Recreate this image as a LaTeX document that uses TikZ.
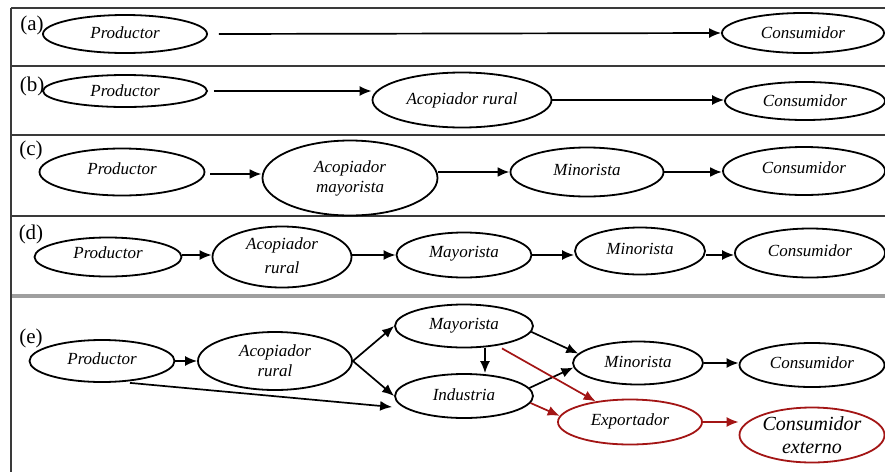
\documentclass[tikz,border=0pt]{standalone}
\usepackage{fontspec}
\setmainfont{Liberation Serif}
\usetikzlibrary{arrows.meta,shapes.geometric}
\definecolor{expred}{HTML}{A31515}
\definecolor{framegray}{HTML}{3A3A3A}
\begin{document}
\begin{tikzpicture}[x=0.5pt,y=-0.5pt,
  actor/.style={ellipse, draw, line width=0.9pt, inner sep=0pt, align=center,
    font=\itshape\fontsize{8.5}{10}\selectfont},
  extactor/.style={actor, draw=expred},
  arr/.style={-{Latex[length=6pt,width=5pt]}, line width=0.85pt},
  thickarr/.style={arr, line width=1.2pt},
  redarr/.style={arr, draw=expred, fill=expred},
  tag/.style={font=\fontsize{10.5}{12}\selectfont, inner sep=0pt},
  rule/.style={draw=framegray, line width=0.8pt}]

\useasboundingbox[fill=white] (0,0) rectangle (885,472);

% panel frame
\draw[rule] (11,8) -- (885,8);
\draw[rule] (11,66) -- (885,66);
\draw[rule] (11,135) -- (885,135);
\draw[rule] (11,216) -- (885,216);
\draw[draw=gray!75, line width=1.6pt] (11,296) -- (885,296);
\draw[rule] (11,8) -- (11,472);

% panel labels
\node[tag] (la) at (32,25) {(a)};
\node[tag] (lb) at (32,86) {(b)};
\node[tag] (lc) at (31,150) {(c)};
\node[tag] (ld) at (31,234) {(d)};
\node[tag] (le) at (31,338) {(e)};

% (a)
\node[actor, minimum width=82pt, minimum height=19pt] (pa) at (125,34) {\raisebox{1pt}{Productor}};
\node[actor, minimum width=81pt, minimum height=20pt] (ca) at (803,33) {Consumidor};
\draw[arr] ([xshift=5.5pt]pa.east) -- (ca.west);

% (b)
\node[actor, minimum width=82pt, minimum height=16pt] (pb) at (125,91) {Productor};
\node[actor, minimum width=89.5pt, minimum height=27.5pt] (ab) at (462,100) {Acopiador rural};
\node[actor, minimum width=80pt, minimum height=19pt] (cb) at (805,101) {Consumidor};
\draw[arr] ([xshift=3pt]pb.east) -- (ab.west |- pb.east);
\draw[arr] (ab.east) -- (cb.west |- ab.east);

% (c)
\node[actor, minimum width=82.5pt, minimum height=23.5pt] (pc) at (122,172) {\raisebox{3.5pt}{Productor}};
\node[actor, minimum width=87.5pt, minimum height=37.5pt] (acm) at (350,178) {Acopiador\\mayorista};
\node[actor, minimum width=76.5pt, minimum height=24.5pt] (mc) at (587,172) {\raisebox{2.5pt}{Minorista}};
\node[actor, minimum width=81pt, minimum height=24pt] (cc) at (804,171) {\raisebox{3.5pt}{Consumidor}};
\draw[thickarr] ([xshift=2.5pt,yshift=-1pt]pc.east) -- (acm.west |- 0,174);
\draw[thickarr] (acm.east |- mc.west) -- (mc.west);
\draw[thickarr] (mc.east) -- (cc.west |- mc.east);

% (d)
\node[actor, minimum width=73.5pt, minimum height=19.5pt] (pd) at (108,257) {\raisebox{4.5pt}{Productor}};
\node[actor, minimum width=69.5pt, minimum height=30.5pt] (ad) at (282,257) {\raisebox{1.5pt}{\shortstack{Acopiador\\[1pt]rural}}};
\node[actor, minimum width=67.5pt, minimum height=22.5pt] (md) at (464,255) {\raisebox{3.5pt}{Mayorista}};
\node[actor, minimum width=65pt, minimum height=23.5pt] (nd) at (640,251) {\raisebox{2pt}{Minorista}};
\node[actor, minimum width=75pt, minimum height=24.5pt] (cd) at (810,253) {\raisebox{2.5pt}{Consumidor}};
\draw[arr] ([yshift=1pt]pd.east) -- (ad.west |- 0,255);
\draw[arr] ([yshift=1pt]ad.east) -- (md.west);
\draw[arr] (md.east) -- (nd.west |- md.east);
\draw[arr] (nd.east |- md.east) -- (cd.west |- md.east);

% (e)
\node[actor, minimum width=72.5pt, minimum height=21pt] (pe) at (102,361) {\raisebox{2pt}{Productor}};
\node[actor, minimum width=77pt, minimum height=29pt] (ae) at (275,361) {Acopiador\\rural};
\node[actor, minimum width=69pt, minimum height=21.5pt] (me) at (464,326) {Mayorista};
\node[actor, minimum width=69pt, minimum height=22pt] (ie) at (464,396) {\raisebox{1.5pt}{Industria}};
\node[actor, minimum width=65pt, minimum height=21.5pt] (ne) at (638,363) {\raisebox{1.5pt}{Minorista}};
\node[actor, minimum width=72.5pt, minimum height=22pt] (ce) at (812,365) {\raisebox{2.5pt}{Consumidor}};
\node[extactor, minimum width=72pt, minimum height=22.5pt] (ex) at (630,422) {\raisebox{2pt}{Exportador}};
\node[extactor, minimum width=72.5pt, minimum height=27.5pt,
  font=\itshape\fontsize{10}{11.5}\selectfont] (cx) at (812,435) {Consumidor\\externo};

\draw[arr] (pe.east) -- (ae.west);
\draw[arr] (ae.east) -- (me.west);
\draw[arr] (ae.east) -- (ie.west);
\draw[arr] ([xshift=14pt]pe.south) -- ([xshift=-1pt,yshift=-5.5pt]ie.west);
\draw[arr] ([xshift=10.5pt]me.south) -- ([xshift=10.5pt]me.south |- ie.north);
\draw[arr] (me.-5) -- (ne.171);
\draw[arr] (ie.7) -- (ne.184);
\draw[arr] (ne.east) -- (ce.west |- ne.east);
\draw[redarr] ([xshift=19pt]me.south) -- (ex.149);
\draw[redarr] (ie.-6) -- (ex.175);
\draw[redarr] (ex.east) -- (cx.west |- ex.east);

\end{tikzpicture}
\end{document}
